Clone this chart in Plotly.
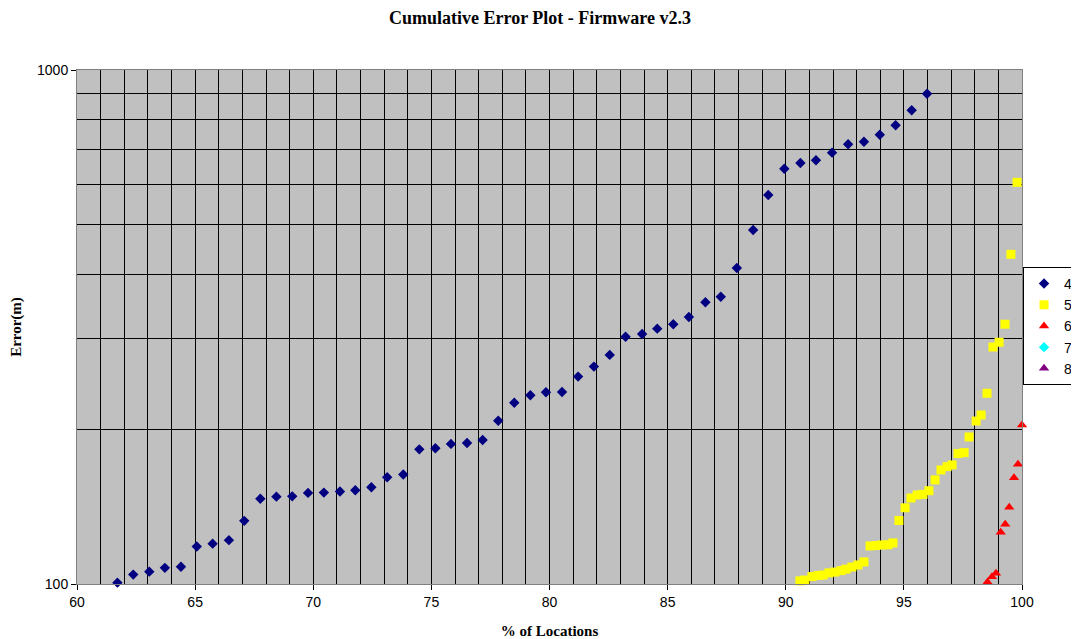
import plotly.graph_objects as go

# Series 4 (blue diamonds)
s4_x = [61.71, 62.38, 63.06, 63.72, 64.40, 65.07, 65.74, 66.43, 67.08, 67.76,
        68.44, 69.11, 69.78, 70.45, 71.13, 71.78, 72.46, 73.13, 73.81, 74.49,
        75.17, 75.83, 76.51, 77.17, 77.83, 78.51, 79.19, 79.85, 80.53, 81.21,
        81.88, 82.55, 83.22, 83.92, 84.56, 85.24, 85.90, 86.60, 87.25, 87.93,
        88.62, 89.26, 89.94, 90.62, 91.28, 91.96, 92.64, 93.31, 93.98, 94.65,
        95.33, 95.98]
s4_y = [100.6, 104.3, 105.7, 107.5, 108.0, 118.3, 119.8, 121.7, 132.7, 146.5,
        147.9, 148.1, 150.4, 150.6, 151.3, 152.2, 154.2, 161.3, 163.3, 182.8,
        183.7, 187.3, 188.1, 190.6, 207.8, 225.3, 232.9, 236.0, 236.3, 253.2,
        264.8, 279.1, 302.8, 306.5, 313.9, 320.2, 330.7, 353.2, 362.2, 411.9,
        488.3, 571.2, 642.7, 659.4, 667.4, 690.5, 716.9, 725.3, 748.4, 780.6,
        835.1, 899.0]

# Series 5 (yellow squares)
s5_x = [90.60, 90.81, 91.11, 91.37, 91.58, 91.83, 92.08, 92.34, 92.55, 92.80,
        93.06, 93.31, 93.57, 93.82, 94.07, 94.33, 94.54, 94.79, 95.05, 95.30,
        95.56, 95.81, 96.06, 96.32, 96.57, 96.83, 97.04, 97.29, 97.55, 97.76,
        98.06, 98.27, 98.52, 98.77, 99.03, 99.28, 99.53, 99.79]
s5_y = [101.4, 101.8, 103.4, 103.9, 104.1, 105.1, 105.5, 106.2, 106.9, 107.9,
        108.9, 110.4, 118.6, 118.8, 119.1, 119.2, 120.2, 132.9, 140.7, 147.0,
        149.0, 149.4, 151.9, 159.4, 166.7, 169.2, 170.5, 179.4, 180.1, 193.2,
        207.5, 213.2, 235.0, 289.1, 295.3, 320.2, 437.9, 604.6]

# Series 6 (red triangles)
s6_x = [98.54, 98.73, 98.90, 99.10, 99.29, 99.46, 99.66, 99.83, 100.0]
s6_y = [100.9, 103.3, 104.9, 126.1, 130.7, 141.0, 161.0, 171.0, 203.9]

# Series 7 and 8 (listed in the legend, no visible points)
s7_x, s7_y = [None], [None]
s8_x, s8_y = [None], [None]

series = [
    ("4", s4_x, s4_y, "diamond", "#000080", 8),
    ("5", s5_x, s5_y, "square", "#FFFF00", 9),
    ("6", s6_x, s6_y, "triangle-up", "#FF0000", 9),
    ("7", s7_x, s7_y, "diamond", "#00FFFF", 8),
    ("8", s8_x, s8_y, "triangle-up", "#800080", 9),
]

fig = go.Figure()
for name, xs, ys, sym, col, sz in series:
    fig.add_trace(go.Scatter(
        x=xs, y=ys, mode="markers", name=name,
        marker=dict(symbol=sym, color=col, size=sz, line=dict(width=0)),
        cliponaxis=False,
    ))

x_ticks = [60, 65, 70, 75, 80, 85, 90, 95, 100]
y_ticks = [100, 1000]
y_minor = [200, 300, 400, 500, 600, 700, 800, 900]

# page body adds an 8px offset, so the figure is 1071x631
W, H = 1071, 631
fig.update_layout(
    width=W, height=H,
    margin=dict(l=69, r=57, t=62, b=55, autoexpand=False),
    paper_bgcolor="white",
    plot_bgcolor="#C0C0C0",
    font=dict(family="Liberation Sans, Arial", size=14, color="black"),
    title=dict(
        text="<b>Cumulative Error Plot - Firmware v2.3</b>",
        font=dict(family="Liberation Serif, Times New Roman", size=18, color="black"),
        x=532 / W, xref="container", xanchor="center",
        y=1 - 10 / H, yref="container", yanchor="middle",
    ),
    showlegend=True,
    legend=dict(
        x=1.0593, xanchor="right", y=0.502, yanchor="middle",
        bordercolor="black", borderwidth=1, bgcolor="white",
        font=dict(family="Liberation Sans, Arial", size=14),
        tracegroupgap=0, itemwidth=30,
    ),
)

fig.update_xaxes(
    range=[60, 100], tickvals=x_ticks,
    ticks="outside", ticklen=5, tickcolor="black",
    showgrid=True, gridcolor="black", gridwidth=1,
    minor=dict(dtick=1, showgrid=True, gridcolor="black", gridwidth=1, ticks=""),
    showline=True, linecolor="#808080", linewidth=1, mirror=True,
    zeroline=False,
    tickfont=dict(family="Liberation Sans, Arial", size=14),
    title=dict(text="<b>% of Locations</b>", standoff=16,
               font=dict(family="Liberation Serif, Times New Roman", size=15)),
)

fig.update_yaxes(
    type="log", range=[2, 3], tickvals=y_ticks, ticktext=["100", "1000"],
    ticks="outside", ticklen=5, tickcolor="black",
    showgrid=False,
    minor=dict(tickvals=y_minor, showgrid=True, gridcolor="black", gridwidth=1, ticks=""),
    showline=True, linecolor="#808080", linewidth=1, mirror=True,
    zeroline=False,
    tickfont=dict(family="Liberation Sans, Arial", size=14),
    title=dict(text="<b>Error(m)</b>", standoff=12,
               font=dict(family="Liberation Serif, Times New Roman", size=15)),
)

fig.write_html("out.html")
